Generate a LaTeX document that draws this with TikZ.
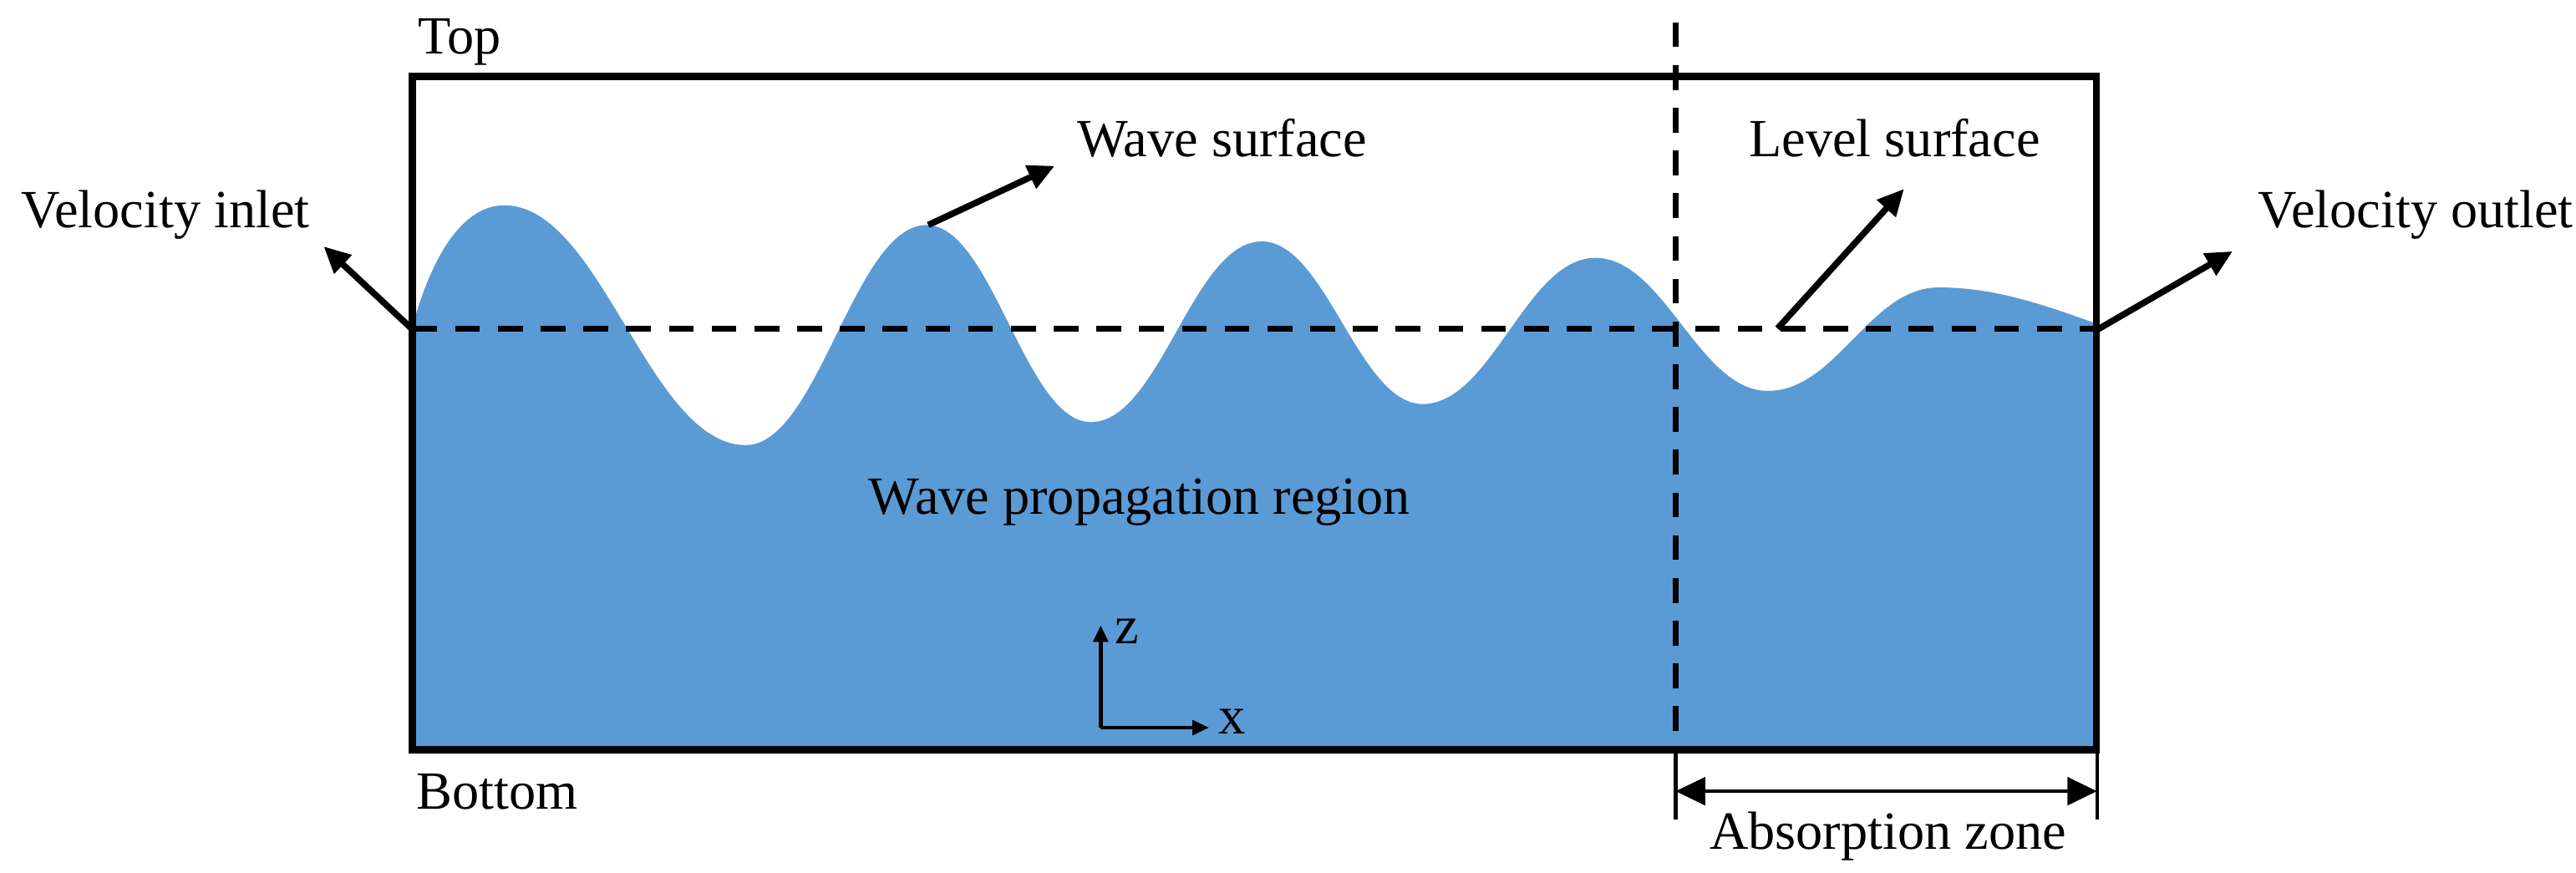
\documentclass[tikz,border=0pt]{standalone}
\usepackage{fontspec}
\setmainfont{Liberation Serif}
\usetikzlibrary{arrows.meta}
\definecolor{water}{RGB}{91,155,213}
\tikzset{
  lbl/.style={inner sep=0pt, anchor=base west, font=\fontsize{9.3}{11}\selectfont},
  wall/.style={line width=1.25pt},
  dashline/.style={line width=1.05pt, dash pattern=on 4.3pt off 3.1pt},
  bigarrow/.style={line width=1.1pt, -{Triangle[length=4.6pt,width=4.2pt]}},
  axisarrow/.style={line width=0.7pt, -{Triangle[length=2.9pt,width=2.5pt]}},
  dimline/.style={line width=0.6pt, {Triangle[length=5.1pt,width=4.8pt]}-{Triangle[length=5.1pt,width=4.8pt]}},
}

\begin{document}
\begin{tikzpicture}[x=0.01cm, y=-0.01cm]
		%%%%% START %%%%%
		\useasboundingbox (0,0) rectangle (1568,531);
		
		% water body with the wave surface
		\fill[water] (251,456) -- (251,199)
			.. controls (263,155) and (282,125) .. (307,125)
			.. controls (366,125) and (395,271) .. (454,271)
			.. controls (498,271) and (520,137) .. (564,137)
			.. controls (604,137) and (624,257) .. (664,257)
			.. controls (706,257) and (726,147) .. (768,147)
			.. controls (807,147) and (827,246) .. (866,246)
			.. controls (908,246) and (929,157) .. (971,157)
			.. controls (1013,157) and (1034,238) .. (1076,238)
			.. controls (1118,238) and (1138,175) .. (1180,175)
			.. controls (1215,175) and (1245,186) .. (1276,197)
			-- (1276,456) -- cycle;
		
		% still water level and start of the absorption zone
		\draw[dashline] (251,200) -- (1276,200);
		\draw[dashline] (1020,13.6) -- (1020,456);
		
		% domain
		\draw[wall] (251,46.5) rectangle (1276,456.5);
		
		% boundaries
		\coordinate (inlet) at (251,200.5);
		\coordinate (inlettip) at (197,150);
		\coordinate (outlet) at (1277,200.5);
		\coordinate (outlettip) at (1359,153);
		\coordinate (crest) at (565,137);
		\coordinate (cresttip) at (642,101);
		\coordinate (level) at (1082,200);
		\coordinate (leveltip) at (1159,115);
		\draw[bigarrow] (inlet) -- (inlettip);
		\draw[bigarrow] (outlet) -- (outlettip);
		\draw[bigarrow] (crest) -- (cresttip);
		\draw[bigarrow] (level) -- (leveltip);
		
		\node[lbl] (top) at (254,33) {Top};
		\node[lbl] (bottom) at (253,492.5) {Bottom};
		\node[lbl] (vin) at (12.5,138.6) {Velocity inlet};
		\node[lbl] (vout) at (1374,138.6) {Velocity outlet};
		\node[lbl] (wsurf) at (655,95.4) {Wave surface};
		\node[lbl] (lsurf) at (1064,95.4) {Level surface};
		\node[lbl] (region) at (528,313) {Wave propagation region};
		
		% axes
		\coordinate (orig) at (670,443);
		\coordinate (ztip) at (670,380.6);
		\coordinate (xtip) at (736,443);
		\draw[axisarrow] (orig) -- (ztip);
		\draw[axisarrow] (orig) -- (xtip);
		\node[lbl] (zlab) at (678,391.7) {z};
		\node[lbl] (xlab) at (741,446.7) {x};
		
		% absorption zone
		\coordinate (absl) at (1020,481.7);
		\coordinate (absr) at (1276.4,481.7);
		\draw[line width=0.75pt] (1020,459) -- (1020,499);
		\draw[line width=0.6pt] (1276.4,459) -- (1276.4,499);
		\draw[dimline] (absl) -- (absr);
		\node[lbl] (abs) at (1040,517) {Absorption zone};
		%%%%% END %%%%%
\end{tikzpicture}
\end{document}
